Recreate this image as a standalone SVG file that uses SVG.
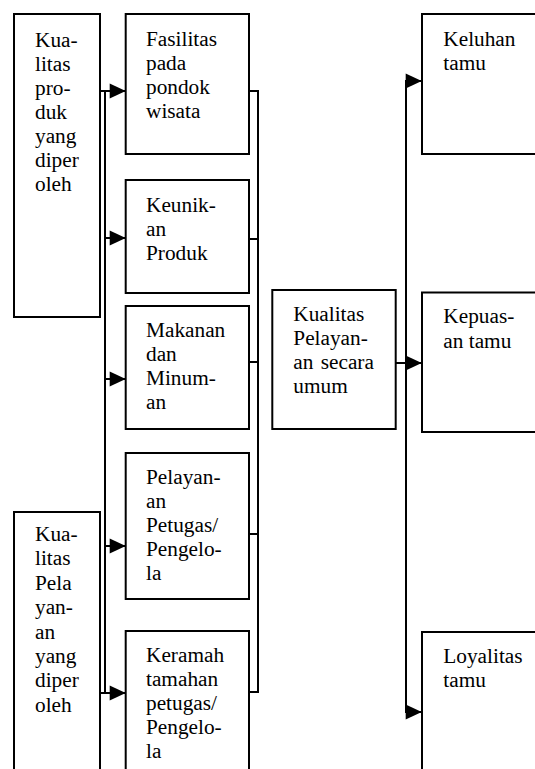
<svg xmlns="http://www.w3.org/2000/svg" width="535" height="769" viewBox="0 0 535 769">
<style>
.box{fill:#fff;stroke:#000;stroke-width:2}
.ln{fill:none;stroke:#000;stroke-width:2}
</style>
<defs>
<marker id="ah" markerUnits="userSpaceOnUse" markerWidth="16" markerHeight="15" refX="16" refY="7.5" orient="auto" overflow="visible">
<path d="M0,0 L16,7.5 L0,15 Z" fill="#000"/>
</marker>
</defs>
<rect x="0" y="0" width="535" height="769" fill="#fff"/>
<g id="connectors">
<path class="ln" d="M105,91 V693"/>
<path class="ln" d="M100,91 H125.7" marker-end="url(#ah)"/>
<path class="ln" d="M105,238 H125.7" marker-end="url(#ah)"/>
<path class="ln" d="M105,379 H125.7" marker-end="url(#ah)"/>
<path class="ln" d="M105,546 H125.7" marker-end="url(#ah)"/>
<path class="ln" d="M100,693 H125.7" marker-end="url(#ah)"/>
<path class="ln" d="M249,91 H258 M249,239 H258 M249,362 H258 M249,534 H258 M249,692 H258 M258,90 V693"/>
<path class="ln" d="M406,80 V713"/>
<path class="ln" d="M396,363 H421.7" marker-end="url(#ah)"/>
<path class="ln" d="M406,81 H421.7" marker-end="url(#ah)"/>
<path class="ln" d="M406,712 H421.7" marker-end="url(#ah)"/>
</g>
<g font-family="Liberation Serif, Tinos, Times New Roman, DejaVu Serif, serif" font-size="21.3" fill="#000">
<g id="n-produk">
<rect class="box" x="14" y="14" width="86" height="303"/>
<text><tspan x="35" y="46.5">Kua-</tspan><tspan x="35" y="70.5">litas</tspan><tspan x="35" y="94.5">pro-</tspan><tspan x="35" y="118.5">duk</tspan><tspan x="35" y="142.5">yang</tspan><tspan x="35" y="166.5">diper</tspan><tspan x="35" y="190.5">oleh</tspan></text>
</g>
<g id="n-pelayanan-diperoleh">
<rect class="box" x="14" y="512" width="86" height="270"/>
<text><tspan x="35" y="541">Kua-</tspan><tspan x="35" y="565.4">litas</tspan><tspan x="35" y="589.8">Pela</tspan><tspan x="35" y="614.2">yan-</tspan><tspan x="35" y="638.6">an</tspan><tspan x="35" y="663">yang</tspan><tspan x="35" y="687.4">diper</tspan><tspan x="35" y="711.8">oleh</tspan></text>
</g>
<g id="n-fasilitas">
<rect class="box" x="125.7" y="14" width="123.3" height="140"/>
<text><tspan x="146" y="46">Fasilitas</tspan><tspan x="146" y="70">pada</tspan><tspan x="146" y="94">pondok</tspan><tspan x="146" y="118">wisata</tspan></text>
</g>
<g id="n-keunikan">
<rect class="box" x="125.7" y="180" width="123.3" height="113"/>
<text><tspan x="146" y="212">Keunik-</tspan><tspan x="146" y="236">an</tspan><tspan x="146" y="260">Produk</tspan></text>
</g>
<g id="n-makanan">
<rect class="box" x="125.7" y="306" width="123.3" height="123"/>
<text><tspan x="146" y="337">Makanan</tspan><tspan x="146" y="361">dan</tspan><tspan x="146" y="385">Minum-</tspan><tspan x="146" y="409">an</tspan></text>
</g>
<g id="n-pelayanan-petugas">
<rect class="box" x="125.7" y="453" width="123.3" height="146"/>
<text><tspan x="146" y="484">Pelayan-</tspan><tspan x="146" y="508">an</tspan><tspan x="146" y="532">Petugas/</tspan><tspan x="146" y="556">Pengelo-</tspan><tspan x="146" y="580">la</tspan></text>
</g>
<g id="n-keramah">
<rect class="box" x="125.7" y="631" width="123.3" height="150"/>
<text><tspan x="146" y="662">Keramah</tspan><tspan x="146" y="686">tamahan</tspan><tspan x="146" y="710">petugas/</tspan><tspan x="146" y="734">Pengelo-</tspan><tspan x="146" y="758">la</tspan></text>
</g>
<g id="n-kualitas-umum">
<rect class="box" x="272.3" y="290" width="123.4" height="139"/>
<text><tspan x="293.3" y="321">Kualitas</tspan><tspan x="293.3" y="345">Pelayan-</tspan><tspan x="293.3" y="369" word-spacing="2">an secara</tspan><tspan x="293.3" y="393">umum</tspan></text>
</g>
<g id="n-keluhan">
<rect class="box" x="422" y="14" width="130" height="140"/>
<text><tspan x="443.3" y="46">Keluhan</tspan><tspan x="443.3" y="70">tamu</tspan></text>
</g>
<g id="n-kepuasan">
<rect class="box" x="422" y="292.5" width="130" height="139.5"/>
<text><tspan x="443.3" y="323">Kepuas-</tspan><tspan x="443.3" y="348">an tamu</tspan></text>
</g>
<g id="n-loyalitas">
<rect class="box" x="422" y="632" width="130" height="150"/>
<text><tspan x="443.3" y="663">Loyalitas</tspan><tspan x="443.3" y="687">tamu</tspan></text>
</g>
</g>
</svg>
